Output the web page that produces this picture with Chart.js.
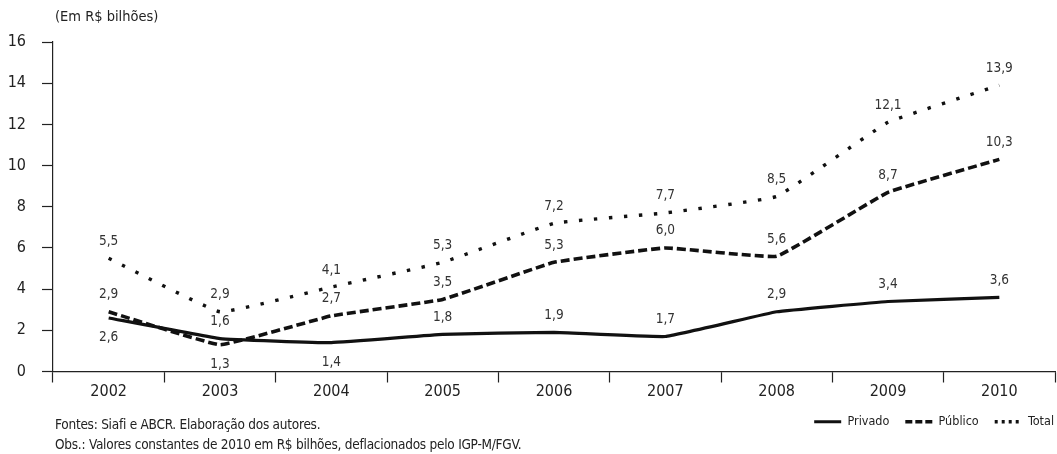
<!DOCTYPE html>
<html>
<head>
<meta charset="utf-8">
<script src="https://cdn.jsdelivr.net/npm/chart.js@4"></script>
<style>
  html, body { margin: 0; padding: 0; background: #fff; }
  #wrap { position: relative; width: 1057px; height: 454px; font-family: "Liberation Sans Narrow", "DejaVu Sans Condensed", sans-serif; color: #222; }
  #unit { position: absolute; left: 55px; top: 8px; font-size: 14.5px; }
  #notes { position: absolute; left: 55px; top: 414px; font-size: 13.5px; line-height: 20px; letter-spacing: -0.25px; }
</style>
</head>
<body>
<div id="wrap">
  <canvas id="myChart" width="1057" height="454"></canvas>
  <div id="unit">(Em R$ bilhões)</div>
  <div id="notes">Fontes: Siafi e ABCR. Elaboração dos autores.<br>Obs.: Valores constantes de 2010 em R$ bilhões, deflacionados pelo IGP-M/FGV.</div>
</div>
<script>
const anos = ['2002', '2003', '2004', '2005', '2006', '2007', '2008', '2009', '2010'];
const privado = [2.6, 1.6, 1.4, 1.8, 1.9, 1.7, 2.9, 3.4, 3.6];
const publico = [2.9, 1.3, 2.7, 3.5, 5.3, 6.0, 5.6, 8.7, 10.3];
const total = [5.5, 2.9, 4.1, 5.3, 7.2, 7.7, 8.5, 12.1, 13.9];
// -1 = label under the point
const ladoPrivado = [-1, 1, -1, 1, 1, 1, 1, 1, 1];
const ladoPublico = [1, -1, 1, 1, 1, 1, 1, 1, 1];
const ladoTotal = [1, 1, 1, 1, 1, 1, 1, 1, 1];

const fonte = '"Liberation Sans Narrow", "DejaVu Sans Condensed", sans-serif';

const rotulos = {
    id: 'rotulos',
    afterDatasetsDraw(chart) {
        const ctx = chart.ctx;
        ctx.save();
        ctx.font = '13.5px ' + fonte;
        ctx.fillStyle = '#333';
        ctx.textAlign = 'center';
        ctx.textBaseline = 'middle';
        chart.data.datasets.forEach((ds, i) => {
            chart.getDatasetMeta(i).data.forEach((pt, j) => {
                const dy = ds.lados[j] > 0 ? -17 : 20;
                ctx.fillText(ds.data[j].toFixed(1).replace('.', ','), pt.x, pt.y + dy);
            });
        });
        ctx.restore();
    }
};

// push the legend flush to the right edge
const legendaDireita = {
    id: 'legendaDireita',
    afterLayout(chart) {
        chart.legend.left += 15;
        chart.legend.right += 15;
    }
};

const ctx = document.getElementById('myChart').getContext('2d');
new Chart(ctx, {
    type: 'line',
    data: {
        labels: anos,
        datasets: [
            { label: 'Privado', data: privado, lados: ladoPrivado, borderColor: '#111', borderWidth: 3.2, borderDash: [], legendDash: [] },
            { label: 'Público', data: publico, lados: ladoPublico, borderColor: '#111', borderWidth: 3.6, borderDash: [9, 4], legendDash: [7, 3] },
            { label: 'Total', data: total, lados: ladoTotal, borderColor: '#111', borderWidth: 3.4, borderDash: [3.4, 11.6], legendDash: [3, 4] }
        ].map(d => Object.assign(d, { pointRadius: 0, pointStyle: 'line', tension: 0.08, fill: false }))
    },
    options: {
        responsive: false,
        animation: false,
        layout: { padding: { top: 42, right: 2, left: 0, bottom: 16 } },
        scales: {
            x: {
                offset: true,
                grid: { offset: true, drawOnChartArea: false, tickLength: 11, color: '#222', tickWidth: 1.2 },
                border: { color: '#222', width: 1.2 },
                ticks: { color: '#222', font: { family: fonte, size: 16 }, padding: 0 },
                afterFit: s => { s.height = 28; }
            },
            y: {
                min: 0,
                max: 16,
                ticks: { stepSize: 2, color: '#222', font: { family: fonte, size: 16 }, padding: 16 },
                grid: { drawOnChartArea: false, tickLength: 11, color: '#222', tickWidth: 1.2 },
                border: { color: '#222', width: 1.2 },
                afterFit: s => { s.width = 53; }
            }
        },
        plugins: {
            legend: {
                position: 'bottom',
                align: 'end',
                labels: {
                    usePointStyle: true,
                    pointStyleWidth: 27,
                    boxWidth: 27,
                    boxHeight: 10,
                    padding: 16,
                    color: '#222',
                    font: { family: fonte, size: 12.5 },
                    generateLabels: chart => Chart.defaults.plugins.legend.labels.generateLabels(chart).map(it => {
                        const ds = chart.data.datasets[it.datasetIndex];
                        it.lineDash = ds.legendDash;
                        it.lineWidth = ds.borderWidth;
                        it.strokeStyle = ds.borderColor;
                        return it;
                    })
                }
            },
            tooltip: { enabled: false }
        }
    },
    plugins: [rotulos, legendaDireita]
});
</script>
</body>
</html>
